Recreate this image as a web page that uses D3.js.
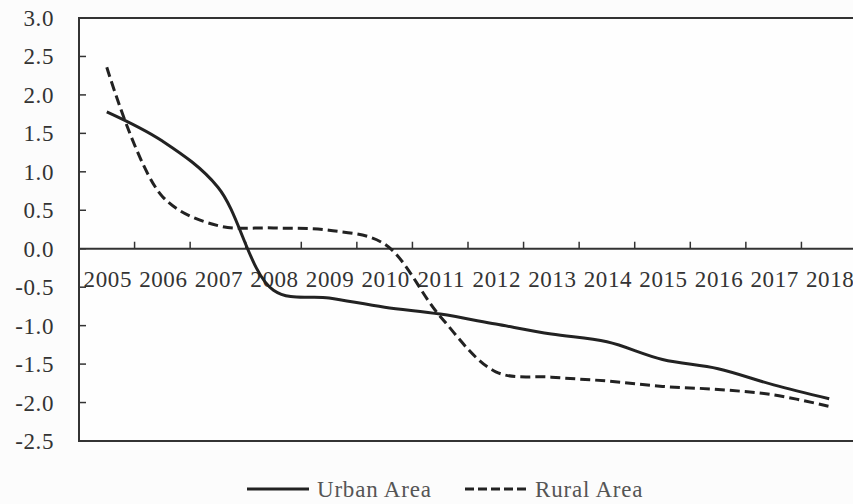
<!DOCTYPE html>
<meta charset="utf-8">
<style>
body { margin: 0; background: #fcfcfc; }
text { font-family: "Liberation Serif", "Times New Roman", serif; fill: #333; }
.lbl { font-size: 23px; letter-spacing: 0.6px; }
</style>
<body>
<div id="chart"></div>
<script src="https://cdn.jsdelivr.net/npm/d3@7/dist/d3.min.js"></script>
<script>

var years = ['2005','2006','2007','2008','2009','2010','2011','2012','2013','2014','2015','2016','2017','2018'];
var urban = [1.78, 1.40, 0.80, -0.54, -0.64, -0.76, -0.85, -0.98, -1.11, -1.21, -1.44, -1.56, -1.77, -1.95];
var rural = [2.36, 0.68, 0.30, 0.27, 0.24, 0.06, -0.88, -1.60, -1.67, -1.72, -1.79, -1.83, -1.90, -2.05];
var yTicks = [3.0, 2.5, 2.0, 1.5, 1.0, 0.5, 0.0, -0.5, -1.0, -1.5, -2.0, -2.5];

var W = 853, H = 504;
var LEFT = 79, RIGHT = 857, TOP = 18, BOTTOM = 441;

var svg = d3.select('#chart').append('svg')
    .attr('width', W)
    .attr('height', H);

var x = d3.scaleBand().domain(years).range([LEFT, RIGHT]).padding(0);
var y = d3.scaleLinear().domain([-2.5, 3.0]).range([BOTTOM, TOP]);

// frame
svg.append('rect')
    .attr('x', LEFT).attr('y', TOP)
    .attr('width', RIGHT - LEFT).attr('height', BOTTOM - TOP)
    .attr('fill', '#fefefe')
    .attr('stroke', '#333')
    .attr('stroke-width', 2);

// y axis ticks (inward) + labels
svg.selectAll('.ytick')
    .data(yTicks)
    .enter().append('line')
    .attr('x1', LEFT).attr('x2', LEFT + 7)
    .attr('y1', function(d) { return y(d); })
    .attr('y2', function(d) { return y(d); })
    .attr('stroke', '#333').attr('stroke-width', 1.5);

svg.selectAll('.ylab')
    .data(yTicks)
    .enter().append('text')
    .attr('class', 'lbl')
    .attr('x', 54)
    .attr('y', function(d) { return y(d) + 8; })
    .attr('text-anchor', 'end')
    .text(function(d) { return d.toFixed(1); });

// zero line with tick marks between categories
svg.append('line')
    .attr('x1', LEFT).attr('x2', RIGHT)
    .attr('y1', y(0)).attr('y2', y(0))
    .attr('stroke', '#333').attr('stroke-width', 2);

svg.selectAll('.xtick')
    .data(years.slice(1))
    .enter().append('line')
    .attr('x1', function(d) { return x(d); })
    .attr('x2', function(d) { return x(d); })
    .attr('y1', y(0)).attr('y2', y(0) - 7)
    .attr('stroke', '#333').attr('stroke-width', 1.5);

svg.selectAll('.xlab')
    .data(years)
    .enter().append('text')
    .attr('class', 'lbl')
    .attr('x', function(d) { return x(d) + x.bandwidth() / 2 + 1; })
    .attr('y', y(0) + 38)
    .attr('text-anchor', 'middle')
    .text(function(d) { return d; });

var line = d3.line()
    .x(function(d, i) { return x(years[i]) + x.bandwidth() / 2; })
    .y(function(d) { return y(d); })
    .curve(d3.curveCatmullRom.alpha(0.5));

svg.append('path')
    .datum(urban)
    .attr('d', line)
    .attr('fill', 'none')
    .attr('stroke', '#222')
    .attr('stroke-width', 3);

svg.append('path')
    .datum(rural)
    .attr('d', line)
    .attr('fill', 'none')
    .attr('stroke', '#222')
    .attr('stroke-width', 3)
    .attr('stroke-dasharray', '10,5');

// legend
var legend = [
  {name: 'Urban Area', x: 247, dash: null},
  {name: 'Rural Area', x: 465, dash: '9,4'}
];
legend.forEach(function(l) {
  svg.append('line')
      .attr('x1', l.x).attr('x2', l.x + 62)
      .attr('y1', 489).attr('y2', 489)
      .attr('stroke', '#222').attr('stroke-width', 3)
      .attr('stroke-dasharray', l.dash);
  svg.append('text')
      .attr('class', 'lbl')
      .attr('x', l.x + 70)
      .attr('y', 497)
      .style('fill', '#555')
      .style('letter-spacing', '0.8px')
      .text(l.name);
});

</script>
